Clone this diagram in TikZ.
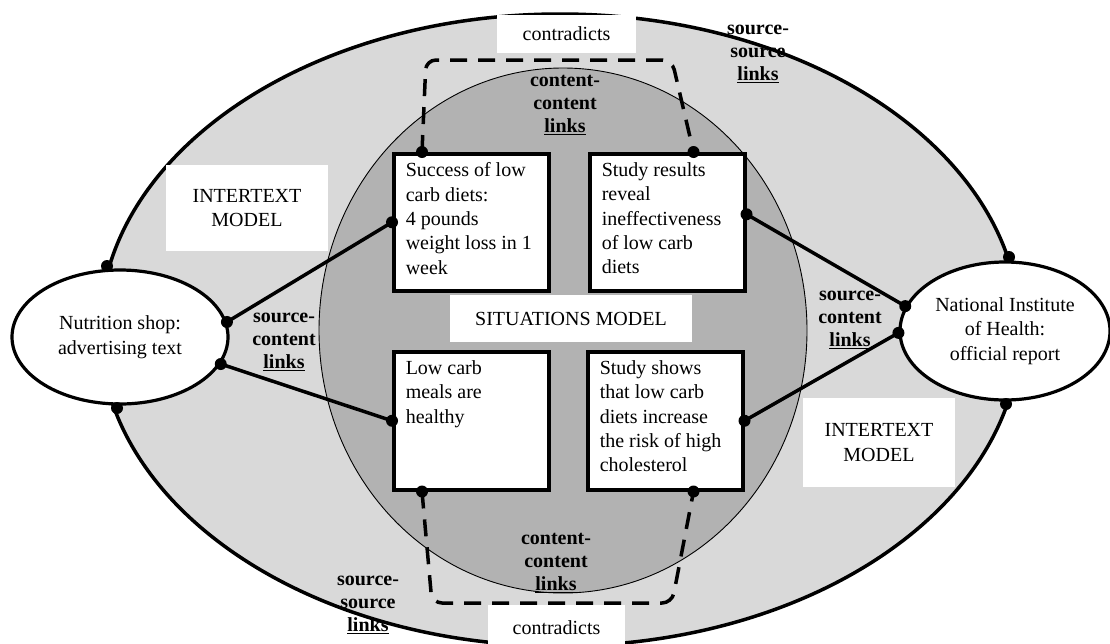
\documentclass[tikz,border=0pt]{standalone}
\usepackage{fontspec}
\setmainfont{Liberation Serif}
\usetikzlibrary{shapes.geometric}
\definecolor{outergray}{gray}{0.85}
\definecolor{innergray}{gray}{0.70}
\begin{document}
\begin{tikzpicture}[x=1pt,y=-1pt,
  font=\fontsize{20}{24.3}\selectfont,
  contentbox/.style={draw, line width=3.5pt, fill=white, inner xsep=12pt, inner ysep=6pt, anchor=north west},
  srcell/.style={ellipse, draw, line width=3.2pt, fill=white, inner sep=0pt, align=center},
  lbl/.style={font=\fontsize{20}{23.3}\selectfont\bfseries, align=center, inner sep=0pt},
  whitebox/.style={fill=white, inner sep=0pt, align=center},
  link/.style={line width=3.5pt},
  contra/.style={line width=3.5pt, dash pattern=on 17pt off 11pt, rounded corners=10pt},
  dot/.style={circle, fill=black, inner sep=0pt, minimum size=12pt}
]
\useasboundingbox (0,0) rectangle (1110,643);
% intertext model and situations model areas
\draw[line width=3.5pt, fill=outergray] (560,330) ellipse [x radius=460pt, y radius=316pt];
\draw[line width=0.9pt, fill=innergray] (563,330.5) ellipse [x radius=244pt, y radius=262.5pt];
% white label boxes
\node[whitebox, minimum width=139pt, minimum height=38pt] (contraTop) at (566.5,34) {contradicts};
\node[whitebox, minimum width=137pt, minimum height=45pt] (contraBot) at (556.5,627.5) {contradicts};
\node[whitebox, minimum width=162pt, minimum height=86pt] (itmL) at (247,208) {INTERTEXT\\MODEL};
\node[whitebox, minimum width=152pt, minimum height=89pt] (itmR) at (879,442.5) {INTERTEXT\\MODEL};
\node[whitebox, minimum width=242pt, minimum height=47pt] (sitm) at (571,318.5) {SITUATIONS MODEL};
% content boxes
\node[contentbox] (box1) at (392,152) {\parbox[c][125pt][t]{131pt}{\vspace*{3pt}\raggedright Success of low\\carb diets:\\4 pounds\\weight loss in 1\\week}};
\node[contentbox] (box2) at (588,152) {\parbox[c][125pt][t]{131pt}{\vspace*{3pt}\raggedright Study results\\reveal\\ineffectiveness\\of low carb\\diets}};
\node[contentbox] (box3) at (392,350) {\parbox[c][126pt][t]{131pt}{\vspace*{3pt}\raggedright Low carb\\meals are\\healthy}};
\node[contentbox] (box4) at (586,350) {\parbox[c][126pt][t]{131pt}{\vspace*{3pt}\raggedright Study shows\\that low carb\\diets increase\\the risk of high\\cholesterol}};
% contradiction links
\draw[contra] ([xshift=30pt]box1.north west) -- (426,60) -- (672,60) -- ([xshift=-53pt]box2.north east);
\draw[contra] ([xshift=30pt]box3.south west) -- (432,603) -- (672,603) -- ([xshift=-51pt]box4.south east);
% sources
\node[srcell, minimum width=216pt, minimum height=134pt] (nut) at (120,337) {\raisebox{-3pt}{\begin{tabular}{@{}c@{}}Nutrition shop:\\advertising text\end{tabular}}};
\node[srcell, minimum width=210pt, minimum height=138pt] (nat) at (1005,331) {National Institute\\of Health:\\official report};
% source-content links
\draw[link] (nut.8) -- (box1.west);
\draw[link] (nut.-15) -- (box3.west);
\draw[link] (nat.166) -- ([yshift=8pt]box2.east);
\draw[link] (nat.181) -- (box4.east);
% source-source junctions
\coordinate (ssA) at (107,266);
\coordinate (ssB) at (117,408);
\coordinate (ssC) at (1009,257);
\coordinate (ssD) at (1006,404);
% dots
\foreach \p in {ssA,ssB,ssC,ssD,nut.8,nut.-15,nat.166,nat.181,box1.west,box3.west,box4.east}
  \node[dot] at (\p) {};
\node[dot] at ([yshift=8pt]box2.east) {};
\node[dot] at ([xshift=30pt]box1.north west) {};
\node[dot] at ([xshift=-53pt]box2.north east) {};
\node[dot] at ([xshift=30pt]box3.south west) {};
\node[dot] at ([xshift=-51pt]box4.south east) {};
% bold labels
\node[lbl] (ssTop) at (758,54) {source-\\source\\\underline{links}};
\node[lbl] (ssBot) at (368,605) {source-\\source\\\underline{links}};
\node[lbl] (ccTop) at (565,105) {content-\\content\\\underline{links}};
\node[lbl] (ccBot) at (556,563) {content-\\content\\\underline{links}};
\node[lbl] (scL) at (284,342) {source-\\content\\\underline{links}};
\node[lbl] (scR) at (850,320) {source-\\content\\\underline{links}};
\end{tikzpicture}
\end{document}
